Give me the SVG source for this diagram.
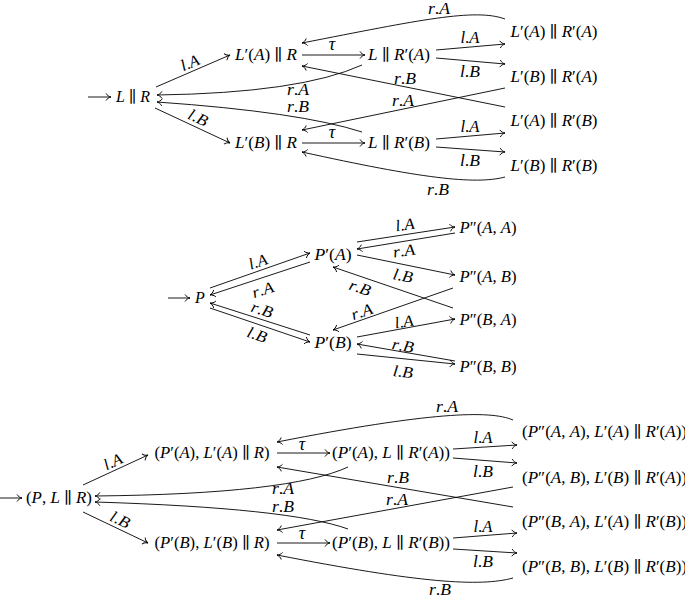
<svg xmlns="http://www.w3.org/2000/svg" width="685" height="597" viewBox="0 0 685 597">
<style>
text{font-family:"Liberation Serif","DejaVu Serif",serif;fill:#000}
.n{font-size:16px}
.l{font-size:16px}
.t{font-size:18px}
.i{font-style:italic}
.c path{fill:none;stroke:#000;stroke-width:0.9;marker-end:url(#ah)}
</style>
<defs>
<marker id="ah" viewBox="-6 -5 8 10" refX="0" refY="0" markerWidth="8" markerHeight="10" orient="auto" markerUnits="userSpaceOnUse">
<path d="M-5,-3.6 C-4,-1.6 -1.6,-0.3 0,0 C-1.6,0.3 -4,1.6 -5,3.6" fill="none" stroke="#000" stroke-width="0.9"/>
</marker>
</defs>

<g id="connectors" class="c">
<!-- top -->
<path d="M88,97 H111"/>
<path d="M156,87 L230,55"/>
<path d="M155,108 L230,143"/>
<path d="M302,55 H365"/>
<path d="M302,143 H365"/>
<path d="M436,50 L505,44"/>
<path d="M436,58 L505,64"/>
<path d="M436,139 L505,133"/>
<path d="M436,147 L505,152"/>
<path d="M505,19 C475,8 420,20 302,43"/>
<path d="M505,107 L302,66"/>
<path d="M505,88 L302,130"/>
<path d="M505,177 C475,185 420,178 302,152"/>
<path d="M362,65 Q300,93 157,95"/>
<path d="M362,132 Q300,112 157,102"/>
<!-- middle -->
<path d="M168,298 H190"/>
<path d="M210,288 L310,253"/>
<path d="M310,262 L210,295"/>
<path d="M310,335 L210,303"/>
<path d="M210,308 L310,342"/>
<path d="M357,242 L455,227"/>
<path d="M455,233 L357,249"/>
<path d="M357,255 L455,275"/>
<path d="M453,308 L333,267"/>
<path d="M453,288 L333,330"/>
<path d="M357,337 L455,319"/>
<path d="M455,361 L357,344"/>
<path d="M357,354 L455,364"/>
<!-- bottom -->
<path d="M0,498 H22"/>
<path d="M83,485 L148,455"/>
<path d="M83,512 L148,543"/>
<path d="M277,453 H330"/>
<path d="M277,543 H330"/>
<path d="M453,449 L517,445"/>
<path d="M453,458 L517,463"/>
<path d="M453,538 L517,533"/>
<path d="M453,549 L517,553"/>
<path d="M513,420 C490,410 430,412 277,442"/>
<path d="M513,507 L277,467"/>
<path d="M513,487 L277,530"/>
<path d="M513,578 C480,587 420,583 277,555"/>
<path d="M348,467 Q290,494 95,496"/>
<path d="M348,529 Q290,508 95,502"/>

<!-- labels -->
<g class="lab">
<text class="l" x="190" y="68" text-anchor="middle" textLength="19" lengthAdjust="spacingAndGlyphs" transform="rotate(-23 190 63)"><tspan class="i">l</tspan>.<tspan class="i">A</tspan></text>
<text class="l" x="198" y="123" text-anchor="middle" textLength="20" lengthAdjust="spacingAndGlyphs" transform="rotate(25 198 118)"><tspan class="i">l</tspan>.<tspan class="i">B</tspan></text>
<text class="t i" x="332" y="50" text-anchor="middle">τ</text>
<text class="t i" x="332" y="138" text-anchor="middle">τ</text>
<text class="l" x="470" y="43" text-anchor="middle" textLength="19" lengthAdjust="spacingAndGlyphs"><tspan class="i">l</tspan>.<tspan class="i">A</tspan></text>
<text class="l" x="470" y="77" text-anchor="middle" textLength="20" lengthAdjust="spacingAndGlyphs"><tspan class="i">l</tspan>.<tspan class="i">B</tspan></text>
<text class="l" x="470" y="132" text-anchor="middle" textLength="19" lengthAdjust="spacingAndGlyphs"><tspan class="i">l</tspan>.<tspan class="i">A</tspan></text>
<text class="l" x="470" y="166" text-anchor="middle" textLength="20" lengthAdjust="spacingAndGlyphs"><tspan class="i">l</tspan>.<tspan class="i">B</tspan></text>
<text class="l" x="439" y="14" text-anchor="middle" textLength="22" lengthAdjust="spacingAndGlyphs"><tspan class="i">r</tspan>.<tspan class="i">A</tspan></text>
<text class="l" x="405" y="84" text-anchor="middle" textLength="22" lengthAdjust="spacingAndGlyphs"><tspan class="i">r</tspan>.<tspan class="i">B</tspan></text>
<text class="l" x="298" y="95" text-anchor="middle" textLength="22" lengthAdjust="spacingAndGlyphs"><tspan class="i">r</tspan>.<tspan class="i">A</tspan></text>
<text class="l" x="298" y="112" text-anchor="middle" textLength="22" lengthAdjust="spacingAndGlyphs"><tspan class="i">r</tspan>.<tspan class="i">B</tspan></text>
<text class="l" x="403" y="106" text-anchor="middle" textLength="22" lengthAdjust="spacingAndGlyphs"><tspan class="i">r</tspan>.<tspan class="i">A</tspan></text>
<text class="l" x="438" y="195" text-anchor="middle" textLength="22" lengthAdjust="spacingAndGlyphs"><tspan class="i">r</tspan>.<tspan class="i">B</tspan></text>

<text class="l" x="258" y="267" text-anchor="middle" textLength="19" lengthAdjust="spacingAndGlyphs" transform="rotate(-19 258 262)"><tspan class="i">l</tspan>.<tspan class="i">A</tspan></text>
<text class="l" x="263" y="295" text-anchor="middle" textLength="22" lengthAdjust="spacingAndGlyphs" transform="rotate(-18 263 290)"><tspan class="i">r</tspan>.<tspan class="i">A</tspan></text>
<text class="l" x="262" y="315" text-anchor="middle" textLength="22" lengthAdjust="spacingAndGlyphs" transform="rotate(18 262 310)"><tspan class="i">r</tspan>.<tspan class="i">B</tspan></text>
<text class="l" x="257" y="340" text-anchor="middle" textLength="20" lengthAdjust="spacingAndGlyphs" transform="rotate(19 257 335)"><tspan class="i">l</tspan>.<tspan class="i">B</tspan></text>
<text class="l" x="405" y="230" text-anchor="middle" textLength="19" lengthAdjust="spacingAndGlyphs" transform="rotate(-8 405 225)"><tspan class="i">l</tspan>.<tspan class="i">A</tspan></text>
<text class="l" x="404" y="256" text-anchor="middle" textLength="22" lengthAdjust="spacingAndGlyphs" transform="rotate(-8 404 251)"><tspan class="i">r</tspan>.<tspan class="i">A</tspan></text>
<text class="l" x="403" y="281" text-anchor="middle" textLength="20" lengthAdjust="spacingAndGlyphs" transform="rotate(11 403 276)"><tspan class="i">l</tspan>.<tspan class="i">B</tspan></text>
<text class="l" x="360" y="293" text-anchor="middle" textLength="22" lengthAdjust="spacingAndGlyphs" transform="rotate(19 360 288)"><tspan class="i">r</tspan>.<tspan class="i">B</tspan></text>
<text class="l" x="362" y="317" text-anchor="middle" textLength="22" lengthAdjust="spacingAndGlyphs" transform="rotate(-19 362 312)"><tspan class="i">r</tspan>.<tspan class="i">A</tspan></text>
<text class="l" x="404" y="327" text-anchor="middle" textLength="19" lengthAdjust="spacingAndGlyphs" transform="rotate(-9 404 322)"><tspan class="i">l</tspan>.<tspan class="i">A</tspan></text>
<text class="l" x="403" y="351" text-anchor="middle" textLength="22" lengthAdjust="spacingAndGlyphs" transform="rotate(10 403 346)"><tspan class="i">r</tspan>.<tspan class="i">B</tspan></text>
<text class="l" x="403" y="377" text-anchor="middle" textLength="20" lengthAdjust="spacingAndGlyphs" transform="rotate(6 403 372)"><tspan class="i">l</tspan>.<tspan class="i">B</tspan></text>

<text class="l" x="113" y="467" text-anchor="middle" textLength="19" lengthAdjust="spacingAndGlyphs" transform="rotate(-25 113 462)"><tspan class="i">l</tspan>.<tspan class="i">A</tspan></text>
<text class="l" x="120" y="525" text-anchor="middle" textLength="20" lengthAdjust="spacingAndGlyphs" transform="rotate(25 120 520)"><tspan class="i">l</tspan>.<tspan class="i">B</tspan></text>
<text class="t i" x="302" y="450" text-anchor="middle">τ</text>
<text class="t i" x="302" y="539" text-anchor="middle">τ</text>
<text class="l" x="483" y="443" text-anchor="middle" textLength="19" lengthAdjust="spacingAndGlyphs"><tspan class="i">l</tspan>.<tspan class="i">A</tspan></text>
<text class="l" x="483" y="477" text-anchor="middle" textLength="20" lengthAdjust="spacingAndGlyphs"><tspan class="i">l</tspan>.<tspan class="i">B</tspan></text>
<text class="l" x="483" y="532" text-anchor="middle" textLength="19" lengthAdjust="spacingAndGlyphs"><tspan class="i">l</tspan>.<tspan class="i">A</tspan></text>
<text class="l" x="483" y="567" text-anchor="middle" textLength="20" lengthAdjust="spacingAndGlyphs"><tspan class="i">l</tspan>.<tspan class="i">B</tspan></text>
<text class="l" x="447" y="412" text-anchor="middle" textLength="22" lengthAdjust="spacingAndGlyphs"><tspan class="i">r</tspan>.<tspan class="i">A</tspan></text>
<text class="l" x="398" y="483" text-anchor="middle" textLength="22" lengthAdjust="spacingAndGlyphs"><tspan class="i">r</tspan>.<tspan class="i">B</tspan></text>
<text class="l" x="283" y="494" text-anchor="middle" textLength="22" lengthAdjust="spacingAndGlyphs"><tspan class="i">r</tspan>.<tspan class="i">A</tspan></text>
<text class="l" x="283" y="512" text-anchor="middle" textLength="22" lengthAdjust="spacingAndGlyphs"><tspan class="i">r</tspan>.<tspan class="i">B</tspan></text>
<text class="l" x="397" y="505" text-anchor="middle" textLength="22" lengthAdjust="spacingAndGlyphs"><tspan class="i">r</tspan>.<tspan class="i">A</tspan></text>
<text class="l" x="440" y="595" text-anchor="middle" textLength="22" lengthAdjust="spacingAndGlyphs"><tspan class="i">r</tspan>.<tspan class="i">B</tspan></text>
</g>
</g>

<!-- top nodes -->
<g id="n_LR"><text class="n" x="133" y="102" text-anchor="middle" textLength="34" lengthAdjust="spacingAndGlyphs"><tspan class="i">L</tspan> ∥ <tspan class="i">R</tspan></text></g>
<g id="n_LpA_R"><text class="n" x="266" y="60" text-anchor="middle" textLength="62" lengthAdjust="spacingAndGlyphs"><tspan class="i">L</tspan>′(<tspan class="i">A</tspan>) ∥ <tspan class="i">R</tspan></text></g>
<g id="n_LpB_R"><text class="n" x="266" y="148" text-anchor="middle" textLength="62" lengthAdjust="spacingAndGlyphs"><tspan class="i">L</tspan>′(<tspan class="i">B</tspan>) ∥ <tspan class="i">R</tspan></text></g>
<g id="n_L_RpA"><text class="n" x="399" y="60" text-anchor="middle" textLength="62" lengthAdjust="spacingAndGlyphs"><tspan class="i">L</tspan> ∥ <tspan class="i">R</tspan>′(<tspan class="i">A</tspan>)</text></g>
<g id="n_L_RpB"><text class="n" x="399" y="148" text-anchor="middle" textLength="62" lengthAdjust="spacingAndGlyphs"><tspan class="i">L</tspan> ∥ <tspan class="i">R</tspan>′(<tspan class="i">B</tspan>)</text></g>
<g id="n_LpA_RpA"><text class="n" x="554" y="37" text-anchor="middle" textLength="87" lengthAdjust="spacingAndGlyphs"><tspan class="i">L</tspan>′(<tspan class="i">A</tspan>) ∥ <tspan class="i">R</tspan>′(<tspan class="i">A</tspan>)</text></g>
<g id="n_LpB_RpA"><text class="n" x="554" y="82" text-anchor="middle" textLength="87" lengthAdjust="spacingAndGlyphs"><tspan class="i">L</tspan>′(<tspan class="i">B</tspan>) ∥ <tspan class="i">R</tspan>′(<tspan class="i">A</tspan>)</text></g>
<g id="n_LpA_RpB"><text class="n" x="554" y="126" text-anchor="middle" textLength="87" lengthAdjust="spacingAndGlyphs"><tspan class="i">L</tspan>′(<tspan class="i">A</tspan>) ∥ <tspan class="i">R</tspan>′(<tspan class="i">B</tspan>)</text></g>
<g id="n_LpB_RpB"><text class="n" x="554" y="171" text-anchor="middle" textLength="87" lengthAdjust="spacingAndGlyphs"><tspan class="i">L</tspan>′(<tspan class="i">B</tspan>) ∥ <tspan class="i">R</tspan>′(<tspan class="i">B</tspan>)</text></g>

<!-- middle nodes -->
<g id="n_P"><text class="n i" x="200" y="303" text-anchor="middle">P</text></g>
<g id="n_PpA"><text class="n" x="333" y="260" text-anchor="middle" textLength="37" lengthAdjust="spacingAndGlyphs"><tspan class="i">P</tspan>′(<tspan class="i">A</tspan>)</text></g>
<g id="n_PpB"><text class="n" x="333" y="348" text-anchor="middle" textLength="37" lengthAdjust="spacingAndGlyphs"><tspan class="i">P</tspan>′(<tspan class="i">B</tspan>)</text></g>
<g id="n_PppAA"><text class="n" x="488" y="233" text-anchor="middle" textLength="57" lengthAdjust="spacingAndGlyphs"><tspan class="i">P</tspan>″(<tspan class="i">A</tspan>, <tspan class="i">A</tspan>)</text></g>
<g id="n_PppAB"><text class="n" x="488" y="282" text-anchor="middle" textLength="57" lengthAdjust="spacingAndGlyphs"><tspan class="i">P</tspan>″(<tspan class="i">A</tspan>, <tspan class="i">B</tspan>)</text></g>
<g id="n_PppBA"><text class="n" x="488" y="325" text-anchor="middle" textLength="57" lengthAdjust="spacingAndGlyphs"><tspan class="i">P</tspan>″(<tspan class="i">B</tspan>, <tspan class="i">A</tspan>)</text></g>
<g id="n_PppBB"><text class="n" x="488" y="372" text-anchor="middle" textLength="57" lengthAdjust="spacingAndGlyphs"><tspan class="i">P</tspan>″(<tspan class="i">B</tspan>, <tspan class="i">B</tspan>)</text></g>

<!-- bottom nodes -->
<g id="b_P_LR"><text class="n" x="59" y="503" text-anchor="middle" textLength="66" lengthAdjust="spacingAndGlyphs">(<tspan class="i">P</tspan>, <tspan class="i">L</tspan> ∥ <tspan class="i">R</tspan>)</text></g>
<g id="b_PpA_LpA_R"><text class="n" x="212" y="458" text-anchor="middle" textLength="115" lengthAdjust="spacingAndGlyphs">(<tspan class="i">P</tspan>′(<tspan class="i">A</tspan>), <tspan class="i">L</tspan>′(<tspan class="i">A</tspan>) ∥ <tspan class="i">R</tspan>)</text></g>
<g id="b_PpB_LpB_R"><text class="n" x="212" y="548" text-anchor="middle" textLength="115" lengthAdjust="spacingAndGlyphs">(<tspan class="i">P</tspan>′(<tspan class="i">B</tspan>), <tspan class="i">L</tspan>′(<tspan class="i">B</tspan>) ∥ <tspan class="i">R</tspan>)</text></g>
<g id="b_PpA_L_RpA"><text class="n" x="391" y="458" text-anchor="middle" textLength="118" lengthAdjust="spacingAndGlyphs">(<tspan class="i">P</tspan>′(<tspan class="i">A</tspan>), <tspan class="i">L</tspan> ∥ <tspan class="i">R</tspan>′(<tspan class="i">A</tspan>))</text></g>
<g id="b_PpB_L_RpB"><text class="n" x="391" y="548" text-anchor="middle" textLength="118" lengthAdjust="spacingAndGlyphs">(<tspan class="i">P</tspan>′(<tspan class="i">B</tspan>), <tspan class="i">L</tspan> ∥ <tspan class="i">R</tspan>′(<tspan class="i">B</tspan>))</text></g>
<g id="b_AA"><text class="n" x="522" y="437" textLength="165" lengthAdjust="spacingAndGlyphs">(<tspan class="i">P</tspan>″(<tspan class="i">A</tspan>, <tspan class="i">A</tspan>), <tspan class="i">L</tspan>′(<tspan class="i">A</tspan>) ∥ <tspan class="i">R</tspan>′(<tspan class="i">A</tspan>))</text></g>
<g id="b_AB"><text class="n" x="522" y="483" textLength="165" lengthAdjust="spacingAndGlyphs">(<tspan class="i">P</tspan>″(<tspan class="i">A</tspan>, <tspan class="i">B</tspan>), <tspan class="i">L</tspan>′(<tspan class="i">B</tspan>) ∥ <tspan class="i">R</tspan>′(<tspan class="i">A</tspan>))</text></g>
<g id="b_BA"><text class="n" x="522" y="527" textLength="165" lengthAdjust="spacingAndGlyphs">(<tspan class="i">P</tspan>″(<tspan class="i">B</tspan>, <tspan class="i">A</tspan>), <tspan class="i">L</tspan>′(<tspan class="i">A</tspan>) ∥ <tspan class="i">R</tspan>′(<tspan class="i">B</tspan>))</text></g>
<g id="b_BB"><text class="n" x="522" y="572" textLength="165" lengthAdjust="spacingAndGlyphs">(<tspan class="i">P</tspan>″(<tspan class="i">B</tspan>, <tspan class="i">B</tspan>), <tspan class="i">L</tspan>′(<tspan class="i">B</tspan>) ∥ <tspan class="i">R</tspan>′(<tspan class="i">B</tspan>))</text></g>
</svg>
